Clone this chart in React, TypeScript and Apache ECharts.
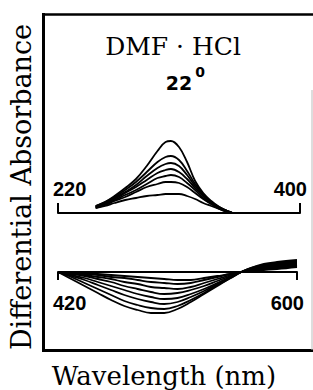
import React, { useEffect, useRef } from "react";
import * as echarts from "echarts";

// Upper panel (220–400 nm)
const upperTicks = [220, 400];
const upperWl = [248, 255, 262, 270, 278, 286, 294, 300, 304, 310, 316, 322, 328, 334, 340, 346, 350];
const upperA = [7, 11, 17, 25, 34, 47, 62, 71, 72, 66, 51, 32, 20, 12, 6, 2, 0];
const upperB = [7, 11, 16, 23, 31, 41, 51, 56, 57, 53, 42, 29, 19, 11, 6, 2, 0];
const upperC = [6, 10, 15, 21, 28, 37, 45, 49, 50, 47, 38, 27, 18, 11, 5, 2, 0];
const upperD = [6, 9, 14, 20, 26, 33, 40, 43, 44, 41, 34, 25, 17, 10, 5, 2, 0];
const upperE = [6, 9, 13, 18, 23, 29, 35, 37, 38, 36, 30, 23, 15, 9, 5, 1, 0];
const upperF = [5, 8, 12, 16, 21, 26, 29, 31, 31, 30, 26, 20, 14, 9, 4, 1, 0];
const upperG = [5, 7, 10, 13, 15, 17, 18, 19, 19, 19, 17, 14, 10, 7, 4, 1, 0];

// Lower panel (420–600 nm)
const lowerTicks = [420, 600];
const lowerWl = [420, 430, 440, 450, 460, 470, 480, 490, 500, 510, 520, 530, 540, 550, 558, 565, 575, 585, 600];
const lowerA = [0, -7, -14, -21, -28, -34, -38, -41, -41, -37, -30, -22, -14, -6, 0, 4, 8, 10, 12];
const lowerB = [0, -5, -11, -17, -23, -29, -33, -36, -37, -34, -28, -21, -13, -6, 0, 4, 7, 9, 11];
const lowerC = [0, -4, -8, -13, -18, -23, -27, -30, -32, -30, -25, -19, -12, -5, 0, 3, 6, 8, 10];
const lowerD = [0, -3, -6, -10, -14, -18, -22, -25, -27, -26, -22, -17, -11, -5, 0, 3, 5, 7, 9];
const lowerE = [0, -2, -4, -7, -10, -14, -17, -20, -22, -21, -18, -14, -9, -4, 0, 2, 4, 6, 8];
const lowerF = [0, -1, -3, -5, -7, -10, -12, -15, -16, -17, -15, -11, -7, -3, 0, 2, 4, 5, 7];
const lowerG = [0, -1, -2, -3, -5, -6, -8, -10, -11, -12, -11, -8, -5, -2, 0, 2, 3, 4, 6];
const lowerH = [0, 0, -1, -2, -3, -4, -5, -6, -7, -8, -8, -6, -4, -2, 0, 1, 2, 3, 5];

const upperCurves = [upperA, upperB, upperC, upperD, upperE, upperF, upperG];
const lowerCurves = [lowerA, lowerB, lowerC, lowerD, lowerE, lowerF, lowerG, lowerH];

export default function App() {
  const ref = useRef<HTMLDivElement>(null);
  useEffect(() => {
    const chart = echarts.init(ref.current!, null, { renderer: "svg" });
    const mk = (wl: number[], vals: number[], idx: number) => ({
      type: "line",
      xAxisIndex: idx,
      yAxisIndex: idx,
      data: wl.map((w, i) => [w, vals[i]]),
      smooth: 0.4,
      symbol: "none",
      silent: true,
      clip: false,
      lineStyle: { color: "#000", width: 1.8 },
      z: 3,
    });
    const labelStyle = {
      fontFamily: "Liberation Sans",
      fontWeight: "bold",
      fontSize: 20,
      color: "#000",
      alignMinLabel: "left",
      alignMaxLabel: "right",
      padding: [0, -7, 0, -5],
      showMinLabel: true,
      showMaxLabel: true,
    };
    chart.setOption({
      animation: false,
      backgroundColor: "#fff",
      grid: [
        { left: 58, top: 133, width: 242, height: 80 },
        { left: 58, top: 272, width: 239, height: 45 },
      ],
      xAxis: [
        {
          gridIndex: 0,
          type: "value",
          min: 220,
          max: 400,
          splitLine: { show: false },
          axisLine: { onZero: false, lineStyle: { color: "#000", width: 2 } },
          axisTick: { inside: true, length: 10, customValues: upperTicks, lineStyle: { color: "#000", width: 2 } },
          axisLabel: { ...labelStyle, inside: true, margin: 14, customValues: upperTicks },
        },
        {
          gridIndex: 1,
          type: "value",
          position: "top",
          min: 420,
          max: 600,
          splitLine: { show: false },
          axisLine: { onZero: false, lineStyle: { color: "#000", width: 2 } },
          axisTick: { inside: true, length: 8, customValues: lowerTicks, lineStyle: { color: "#000", width: 2 } },
          axisLabel: { ...labelStyle, inside: true, margin: 21, customValues: lowerTicks },
        },
      ],
      yAxis: [
        { gridIndex: 0, type: "value", min: 0, max: 80, show: false },
        { gridIndex: 1, type: "value", min: -45, max: 0, show: false },
      ],
      graphic: [
        { type: "line", shape: { x1: 43.5, y1: 13, x2: 43.5, y2: 352 }, style: { stroke: "#000", lineWidth: 3 } },
        { type: "line", shape: { x1: 42, y1: 14.5, x2: 313, y2: 14.5 }, style: { stroke: "#000", lineWidth: 2.5 } },
        { type: "line", shape: { x1: 42, y1: 350.5, x2: 313, y2: 350.5 }, style: { stroke: "#000", lineWidth: 3 } },
        { type: "line", shape: { x1: 312, y1: 90, x2: 312, y2: 350 }, style: { stroke: "#bbb", lineWidth: 1 } },
        {
          type: "text",
          x: 21,
          y: 187,
          rotation: Math.PI / 2,
          style: {
            text: "Differential Absorbance",
            fontFamily: "DejaVu Serif",
            fontSize: 27,
            fill: "#000",
            align: "center",
            verticalAlign: "middle",
          },
        },
        {
          type: "text",
          x: 164,
          y: 376,
          style: {
            text: "Wavelength (nm)",
            fontFamily: "DejaVu Serif",
            fontSize: 26,
            fill: "#000",
            align: "center",
            verticalAlign: "middle",
          },
        },
        {
          type: "text",
          x: 173,
          y: 46,
          style: {
            text: "DMF · HCl",
            fontFamily: "DejaVu Serif",
            fontSize: 25,
            fill: "#000",
            align: "center",
            verticalAlign: "middle",
          },
        },
        {
          type: "text",
          x: 179,
          y: 83,
          style: {
            text: "22",
            fontFamily: "DejaVu Sans",
            fontWeight: "bold",
            fontSize: 19,
            fill: "#000",
            align: "center",
            verticalAlign: "middle",
          },
        },
        {
          type: "text",
          x: 200,
          y: 72,
          style: {
            text: "0",
            fontFamily: "DejaVu Sans",
            fontWeight: "bold",
            fontSize: 14,
            fill: "#000",
            align: "center",
            verticalAlign: "middle",
          },
        },
      ],
      series: [
        ...upperCurves.map((c) => mk(upperWl, c, 0)),
        ...lowerCurves.map((c) => mk(lowerWl, c, 1)),
      ],
    });
    return () => chart.dispose();
  }, []);
  return (
    <div
      ref={ref}
      style={{ position: "fixed", left: 0, top: 0, width: 313, height: 390, background: "#fff" }}
    />
  );
}
